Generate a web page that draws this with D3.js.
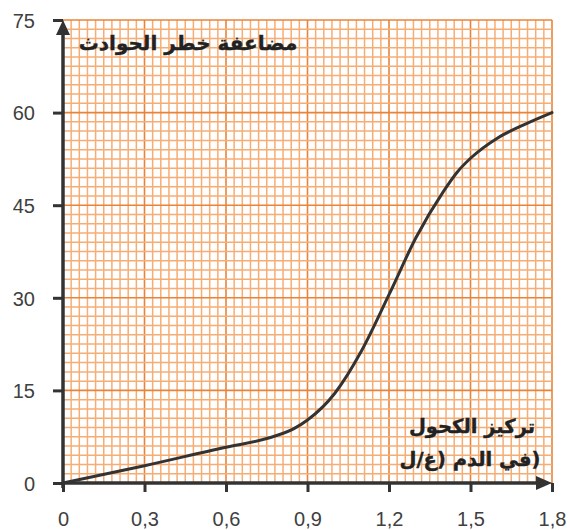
<!DOCTYPE html>
<html>
<head>
<meta charset="utf-8">
<script src="https://cdn.jsdelivr.net/npm/d3@7"></script>
<style>
  body { margin: 0; background: #fff; }
  svg { display: block; }
</style>
</head>
<body>
<div id="chart"></div>
<script>
// values
const alcohol = [0, 0.3, 0.6, 0.75, 0.85, 0.9, 1.0, 1.1, 1.2, 1.3, 1.4, 1.45, 1.5, 1.6, 1.7, 1.8];
const risk    = [0, 2.8, 5.8, 7.2, 8.8, 10.2, 14.5, 21.5, 30.5, 39.8, 47.2, 50.3, 52.6, 55.9, 58.1, 60];
const xTicks = [0, 0.3, 0.6, 0.9, 1.2, 1.5, 1.8];
const yTicks = [0, 15, 30, 45, 60, 75];
const yTitle = "مضاعفة خطر الحوادث";
const xTitle1 = "تركيز الكحول";
const xTitle2 = "(في الدم (غ/ل";

try {
  const W = 570, H = 530;
  const margin = {top: 20, right: 18, bottom: 47, left: 63};
  const width = W - margin.left - margin.right,
        height = H - margin.top - margin.bottom;

  const svg = d3.select("#chart").append("svg")
    .attr("width", W).attr("height", H);
  const g = svg.append("g")
    .attr("transform", `translate(${margin.left},${margin.top})`);

  const x = d3.scaleLinear().domain([0, 1.8]).range([0, width]);
  const y = d3.scaleLinear().domain([0, 75]).range([height, 0]);

  // graph paper
  const minorX = d3.range(0, 61).map(i => i * 0.03);
  const minorY = d3.range(0, 51).map(i => i * 1.5);
  const grid = g.append("g");
  grid.selectAll(".vx").data(minorX).join("line")
    .attr("x1", d => x(d)).attr("x2", d => x(d))
    .attr("y1", 0).attr("y2", height)
    .attr("stroke", (d, i) => i % 10 === 0 ? "#e8843a" : "#f6ad74")
    .attr("stroke-width", (d, i) => i % 10 === 0 ? 1.6 : 1.5);
  grid.selectAll(".hy").data(minorY).join("line")
    .attr("y1", d => y(d)).attr("y2", d => y(d))
    .attr("x1", 0).attr("x2", width)
    .attr("stroke", (d, i) => i % 10 === 0 ? "#e8843a" : "#f6ad74")
    .attr("stroke-width", (d, i) => i % 10 === 0 ? 1.6 : 1.5);

  // axes
  const axisColor = "#333";
  const xAxis = g.append("g")
    .attr("transform", `translate(0,${height})`)
    .call(d3.axisBottom(x).tickValues(xTicks).tickSize(9).tickPadding(16)
      .tickFormat(d => d3.format(".1f")(d).replace(".", ",").replace(/^0,0$/, "0")));
  const yAxis = g.append("g")
    .call(d3.axisLeft(y).tickValues(yTicks).tickSize(10).tickPadding(16));

  [xAxis, yAxis].forEach(a => {
    a.select(".domain").remove();
    a.selectAll(".tick line").attr("stroke", axisColor).attr("stroke-width", 3);
    a.selectAll(".tick text")
      .attr("fill", "#404040")
      .style("font-family", "'Liberation Sans', Arial, sans-serif")
      .style("font-size", "20px");
  });
  xAxis.selectAll(".tick text").attr("dy", "0.9em");
  yAxis.selectAll(".tick text").attr("x", -28).attr("dy", "0.36em");

  g.append("line")
    .attr("x1", x(0)).attr("x2", x(1.8) - 8)
    .attr("y1", y(0)).attr("y2", y(0))
    .attr("stroke", axisColor).attr("stroke-width", 3.5);
  g.append("line")
    .attr("x1", x(0)).attr("x2", x(0))
    .attr("y1", y(0) + 5).attr("y2", y(75) + 8)
    .attr("stroke", axisColor).attr("stroke-width", 3.5);

  // arrow heads
  g.append("path")
    .attr("d", `M${x(1.8)},${y(0)} l-16,-7 l0,14 Z`)
    .attr("fill", axisColor);
  g.append("path")
    .attr("d", `M${x(0)},${y(75)} l-7,15 l14,0 Z`)
    .attr("fill", axisColor);

  // curve
  const pts = alcohol.map((a, i) => [a, risk[i]]);
  g.append("path")
    .datum(pts)
    .attr("fill", "none")
    .attr("stroke", "#333")
    .attr("stroke-width", 3)
    .attr("stroke-linecap", "round")
    .attr("d", d3.line().x(d => x(d[0])).y(d => y(d[1])).curve(d3.curveMonotoneX));

  // titles
  const arabic = "'DejaVu Sans', 'Noto Sans', sans-serif";
  const title = (tx, ty, txt, size) => svg.append("text")
    .attr("x", tx).attr("y", ty)
    .attr("text-anchor", "middle")
    .attr("direction", "rtl")
    .style("font-family", arabic).style("font-weight", "bold").style("font-size", size)
    .attr("fill", "#222")
    .attr("stroke", "#222").attr("stroke-width", 0.4)
    .text(txt);
  title(188, 50, yTitle, "20px");
  title(472, 433, xTitle1, "19.5px");
  title(470, 466, xTitle2, "19.5px");
} catch (e) {
  console.error("Render error:", e);
}
</script>
</body>
</html>
